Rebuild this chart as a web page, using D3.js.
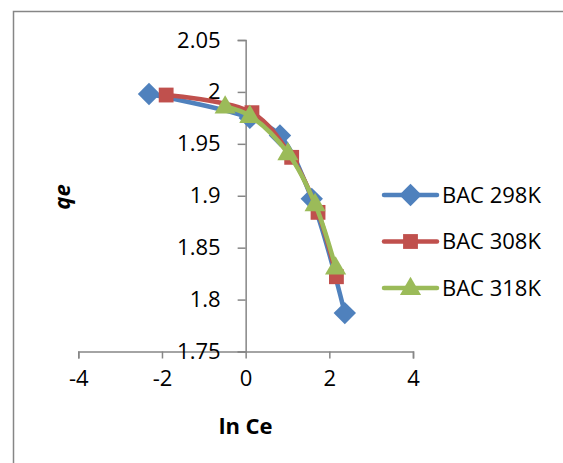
<!DOCTYPE html>
<html><head><meta charset="utf-8">
<script src="https://cdn.jsdelivr.net/npm/d3@7"></script>
<style>
html,body{margin:0;padding:0;background:#fff;}
svg{display:block;}
text{font-family:"Open Sans",Lato,sans-serif;fill:#000;}
</style></head>
<body>
<script>
const seriesNames = ["BAC 298K", "BAC 308K", "BAC 318K"];
const seriesColors = ["#4F81BD", "#C0504D", "#9BBB59"];
const seriesMarkers = ["diamond", "square", "triangle"];
const x298 = [-2.31, 0.10, 0.82, 1.58, 2.37];
const y298 = [1.998, 1.975, 1.958, 1.897, 1.787];
const x308 = [-1.90, 0.15, 1.10, 1.73, 2.17];
const y308 = [1.997, 1.980, 1.937, 1.884, 1.822];
const x318 = [-0.49, 0.10, 1.01, 1.66, 2.15];
const y318 = [1.986, 1.977, 1.941, 1.892, 1.831];
const xTicks = [-4, -2, 0, 2, 4];
const yTicks = [1.75, 1.8, 1.85, 1.9, 1.95, 2, 2.05];
const xTitle = "ln Ce";
const yTitle = "qe";

const W = 563, H = 463;
const svg = d3.select("body").append("svg").attr("width", W).attr("height", H);

// chart border
svg.append("rect").attr("x", 13.5).attr("y", 11.5).attr("width", 620).attr("height", 520)
  .attr("fill", "none").attr("stroke", "#868686").attr("stroke-width", 1.5);

const x = d3.scaleLinear().domain([-4, 4]).range([78.3, 413]);
const y = d3.scaleLinear().domain([1.75, 2.05]).range([351.5, 40]);

const axisColor = "#868686";
const fs = "22px";

// x axis at y=1.75
const gx = svg.append("g").attr("transform", `translate(0,${y(1.75)})`)
  .call(d3.axisBottom(x).tickValues(xTicks).tickSize(7).tickPadding(12).tickFormat(d => String(d)));
gx.select(".domain").attr("stroke", axisColor).attr("stroke-width", 1.5);
gx.selectAll(".tick line").attr("stroke", axisColor).attr("stroke-width", 1.5);
gx.selectAll(".tick text").style("font-size", fs).attr("fill", "#000");

// y axis at x=0
const gy = svg.append("g").attr("transform", `translate(${x(0)},0)`)
  .call(d3.axisLeft(y).tickValues(yTicks).tickSize(8).tickPadding(17).tickFormat(d => String(+d.toFixed(2))));
gy.select(".domain").attr("stroke", axisColor).attr("stroke-width", 1.5);
gy.selectAll(".tick line").attr("stroke", axisColor).attr("stroke-width", 1.5);
gy.selectAll(".tick text").style("font-size", fs).attr("fill", "#000");

// axis titles
svg.append("text").attr("x", x(0)).attr("y", 434).attr("text-anchor", "middle")
  .style("font-size", "22px").style("font-weight", "bold").text(xTitle);
svg.append("text").attr("transform", "translate(70,197) rotate(-90)").attr("text-anchor", "middle")
  .style("font-size", "22px").style("font-weight", "bold").style("font-style", "italic").text(yTitle);

const data = [
  x298.map((v, i) => [v, y298[i]]),
  x308.map((v, i) => [v, y308[i]]),
  x318.map((v, i) => [v, y318[i]])
];

const line = d3.line().x(d => x(d[0])).y(d => y(d[1])).curve(d3.curveCatmullRom.alpha(0.5));

function markerPath(type) {
  if (type === "diamond") return d3.symbol(d3.symbolDiamond2, 320)();
  if (type === "square") return d3.symbol(d3.symbolSquare2, 280)();
  return d3.symbol(d3.symbolTriangle2, 320)();
}

data.forEach((pts, si) => {
  const g = svg.append("g");
  g.append("path").attr("d", line(pts)).attr("fill", "none")
    .attr("stroke", seriesColors[si]).attr("stroke-width", 4.5).attr("stroke-linejoin", "round").attr("stroke-linecap", "round");
  g.selectAll("path.m").data(pts).enter().append("path").attr("class", "m")
    .attr("d", markerPath(seriesMarkers[si]))
    .attr("transform", d => `translate(${x(d[0])},${y(d[1]) + (seriesMarkers[si] === "triangle" ? 1 : 0)})`)
    .attr("fill", seriesColors[si]);
});

// legend
const legY = [195, 241.5, 288];
seriesNames.forEach((name, i) => {
  const g = svg.append("g").attr("transform", `translate(0,${legY[i]})`);
  g.append("line").attr("x1", 384).attr("x2", 437).attr("y1", 0).attr("y2", 0)
    .attr("stroke", seriesColors[i]).attr("stroke-width", 4.5).attr("stroke-linecap", "round");
  g.append("path").attr("d", markerPath(seriesMarkers[i]))
    .attr("transform", `translate(410.5,${seriesMarkers[i] === "triangle" ? 1 : 0})`).attr("fill", seriesColors[i]);
  g.append("text").attr("x", 442).attr("y", 0).attr("dy", "0.35em").style("font-size", fs).text(name);
});
</script>
</body></html>
